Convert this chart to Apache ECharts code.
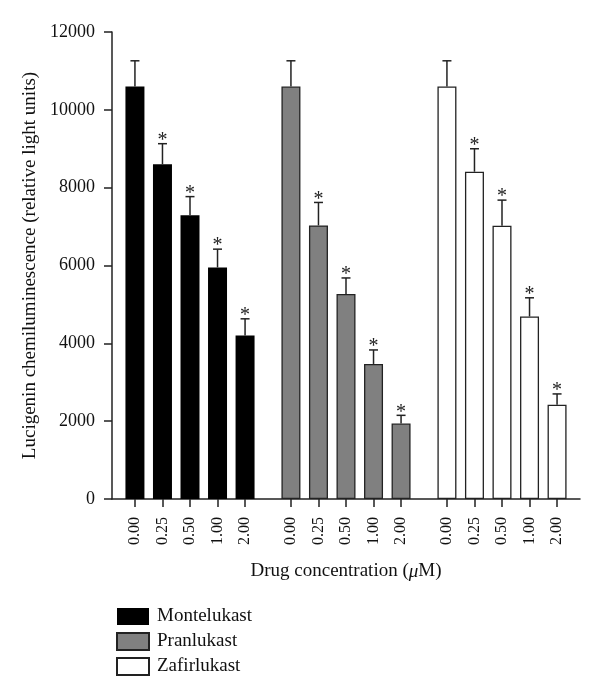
<!DOCTYPE html>
<html>
<head>
<meta charset="utf-8">
<script src="https://cdn.jsdelivr.net/npm/echarts@6/dist/echarts.min.js"></script>
<style>
html,body{margin:0;padding:0;background:#fff;}
#chart{width:600px;height:698px;}
</style>
</head>
<body>
<div id="chart"></div>
<script>
// ---- data ----
const concLabels = ['0.00', '0.25', '0.50', '1.00', '2.00'];
const drugs = ['Montelukast', 'Pranlukast', 'Zafirlukast'];
const montelukastMean = [10600, 8600, 7290, 5950, 4200];
const montelukastErr  = [660, 530, 480, 470, 430];
const pranlukastMean  = [10600, 7030, 5270, 3470, 1940];
const pranlukastErr   = [660, 590, 410, 360, 210];
const zafirlukastMean = [10600, 8410, 7020, 4690, 2420];
const zafirlukastErr  = [660, 590, 660, 480, 280];
const significant = [false, true, true, true, true];
const yMin = 0, yMax = 12000, yStep = 2000;

// ---- layout of category slots (bars spaced within groups, wider gap between groups) ----
const PAD = 2, BAR_STEP = 3, GROUP_STEP = 17, TOTAL = 51;
const means = [montelukastMean, pranlukastMean, zafirlukastMean];
const errs = [montelukastErr, pranlukastErr, zafirlukastErr];
const fills = ['#000000', '#808080', '#ffffff'];
const borders = ['#000000', '#222222', '#222222'];

const cats = new Array(TOTAL).fill('');
const posOf = (g, i) => PAD + g * GROUP_STEP + i * BAR_STEP;
drugs.forEach((d, g) => concLabels.forEach((c, i) => { cats[posOf(g, i)] = c; }));

const barSeries = drugs.map((name, g) => {
  const data = new Array(TOTAL).fill('-');
  means[g].forEach((v, i) => { data[posOf(g, i)] = v; });
  return {
    name, type: 'bar', data, barWidth: 19, barGap: '-100%',
    itemStyle: { color: fills[g], borderColor: borders[g], borderWidth: g === 0 ? 0 : 1.3 },
    emphasis: { disabled: true }, z: 2
  };
});

const errData = [];
drugs.forEach((d, g) => means[g].forEach((v, i) => {
  errData.push([posOf(g, i), v, errs[g][i], significant[i] ? 1 : 0]);
}));

const SERIF = '"Liberation Serif", "DejaVu Serif", serif';
const AX = '#222';

const errSeries = {
  type: 'custom', name: 'err', data: errData, z: 5, silent: true,
  renderItem: (params, api) => {
    const x = api.value(0), m = api.value(1), e = api.value(2), s = api.value(3);
    const p0 = api.coord([x, m]);
    const p1 = api.coord([x, m + e]);
    const children = [
      { type: 'line', shape: { x1: p0[0], y1: p0[1], x2: p1[0], y2: p1[1] }, style: { stroke: AX, lineWidth: 1.5 } },
      { type: 'line', shape: { x1: p1[0] - 4.5, y1: p1[1], x2: p1[0] + 4.5, y2: p1[1] }, style: { stroke: AX, lineWidth: 1.5 } }
    ];
    if (s) {
      children.push({ type: 'text', style: { text: '*', x: p1[0], y: p1[1] - 3, align: 'center', verticalAlign: 'middle', font: '20px ' + SERIF, fill: '#222' } });
    }
    return { type: 'group', children };
  }
};

const chart = echarts.init(document.getElementById('chart'), null, { renderer: 'canvas' });
chart.setOption({
  animation: false,
  backgroundColor: '#fff',
  textStyle: { fontFamily: SERIF },
  grid: { left: 112, right: 20, top: 32, bottom: 199 },
  legend: {
    data: drugs, orient: 'vertical', left: 111, top: 602,
    icon: 'rect',
    itemWidth: 32, itemHeight: 17, itemGap: 6,
    textStyle: { fontFamily: SERIF, fontSize: 19, color: '#111', padding: [0, 0, 0, 3] },
    selectedMode: false
  },
  xAxis: {
    type: 'category', data: cats,
    axisLine: { lineStyle: { color: AX, width: 1.5 } },
    axisTick: { show: true, alignWithLabel: true, length: 8, lineStyle: { color: AX, width: 1.5 },
      interval: (idx) => cats[idx] !== '' },
    axisLabel: { interval: 0, rotate: 90, margin: 18, fontFamily: SERIF, fontSize: 16, color: '#111' },
    name: 'Drug concentration ({i|μ}M)', nameLocation: 'middle', nameGap: 63,
    nameTextStyle: { fontFamily: SERIF, fontSize: 19, color: '#111', rich: { i: { fontStyle: 'italic', fontFamily: SERIF, fontSize: 19, color: '#111' } } }
  },
  yAxis: {
    type: 'value', min: yMin, max: yMax, interval: yStep,
    splitLine: { show: false },
    axisLine: { show: true, lineStyle: { color: AX, width: 1.5 } },
    axisTick: { show: true, length: 8, lineStyle: { color: AX, width: 1.5 } },
    axisLabel: { margin: 17, fontFamily: SERIF, fontSize: 18, color: '#111', formatter: (v) => String(v) },
    name: 'Lucigenin chemiluminescence (relative light units)', nameLocation: 'middle', nameGap: 66,
    nameTextStyle: { fontFamily: SERIF, fontSize: 19, color: '#111' }
  },
  series: [...barSeries, errSeries]
});
</script>
</body>
</html>
